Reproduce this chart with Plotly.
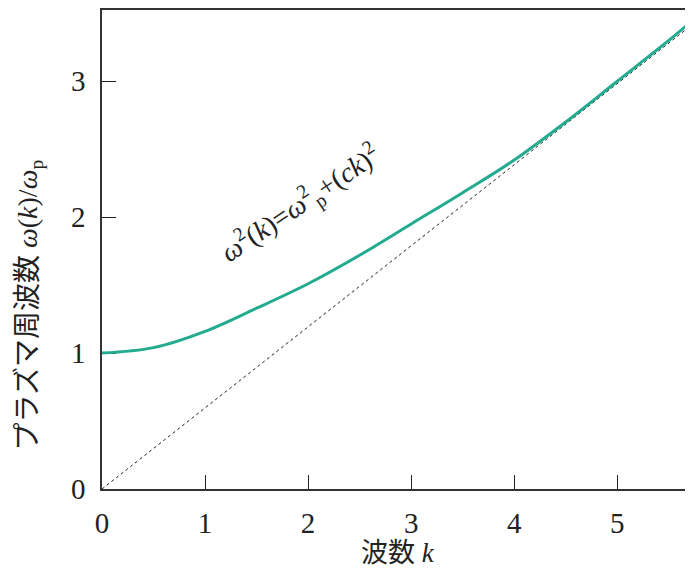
import plotly.graph_objects as go

# Values
k_curve = [0, 0.5, 1.0, 1.5, 2.0, 2.5, 3.0, 3.5, 4.0, 4.5, 5.0, 5.5, 5.75]
omega_curve = [1.00, 1.04, 1.16, 1.33, 1.51, 1.72, 1.95, 2.18, 2.42, 2.70, 3.00, 3.30, 3.46]

k_line = [0, 5.75]
omega_line = [0, 3.43]

x_ticks = [0, 1, 2, 3, 4, 5]
y_ticks = [0, 1, 2, 3]

serif = "Liberation Serif, Times New Roman, Noto Sans CJK JP, serif"

fig = go.Figure()
fig.add_trace(go.Scatter(x=k_line, y=omega_line, mode="lines",
                         line=dict(color="#222222", width=1, dash="dot"),
                         showlegend=False, hoverinfo="skip"))
fig.add_trace(go.Scatter(x=k_curve, y=omega_curve, mode="lines",
                         line=dict(color="#23ab90", width=3, shape="spline", smoothing=1.0),
                         showlegend=False))

# page body has an 8px default margin; figure sized to end at the window edge
fig.update_layout(
    width=685, height=569,
    margin=dict(l=94, r=0, t=2, b=88),
    plot_bgcolor="white", paper_bgcolor="white",
    font=dict(family=serif, size=27, color="#222222"),
    xaxis=dict(range=[0, 5.735], tickvals=x_ticks, ticks="inside", ticklen=14,
               tickwidth=1.3, tickcolor="#222222", layer="below traces",
               showline=True, linecolor="#333333", linewidth=1.5, mirror=True,
               showgrid=False, zeroline=False, ticklabelstandoff=7,
               tickfont=dict(family=serif, size=29)),
    yaxis=dict(range=[0, 3.524], tickvals=y_ticks, ticks="inside", ticklen=14,
               tickwidth=1.3, tickcolor="#222222", layer="below traces",
               showline=True, linecolor="#333333", linewidth=1.5,
               showgrid=False, zeroline=False, ticklabelstandoff=9,
               tickfont=dict(family=serif, size=29)),
)

# x-axis title
fig.add_annotation(text="波数 <i>k</i>", xref="paper", yref="paper",
                   x=0.5, y=-0.133, xanchor="center", yanchor="middle",
                   showarrow=False, font=dict(family=serif, size=27))
# y-axis title
fig.add_annotation(text="プラズマ周波数 <i>ω</i>(<i>k</i>)/<i>ω</i><sub>p</sub>",
                   xref="paper", yref="paper", x=-0.122, y=0.385,
                   xanchor="center", yanchor="middle", textangle=-90,
                   showarrow=False, font=dict(family=serif, size=28))
# formula label
fig.add_annotation(text="<i>ω</i><sup>2</sup>(<i>k</i>)=<i>ω</i><sup>2</sup><sub>p</sub>+(<i>ck</i>)<sup>2</sup>",
                   x=1.93, y=2.10, xref="x", yref="y", textangle=-34,
                   showarrow=False, font=dict(family=serif, size=28))

fig.write_html("out.html")
